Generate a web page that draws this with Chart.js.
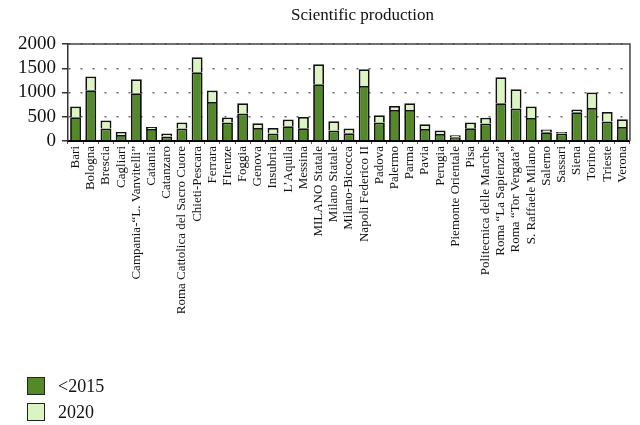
<!DOCTYPE html>
<html>
<head>
<meta charset="utf-8">
<script src="https://cdn.jsdelivr.net/npm/chart.js@4"></script>
<style>
  body { margin: 0; background: #fff; }
  #wrap { position: relative; width: 640px; height: 425px; font-family: "Liberation Serif", serif; }
  #title { position: absolute; left: 0; top: 5px; width: 725px; text-align: center; font-size: 17px; color: #111; }
  #legend { position: absolute; left: 27px; top: 373px; }
  .item { display: flex; align-items: center; height: 26px; font-size: 18px; color: #111; }
  .box { width: 16px; height: 16px; border: 1.5px solid #222; margin-right: 13px; }
</style>
</head>
<body>
<div id="wrap">
  <canvas id="chart" width="640" height="425"></canvas>
  <div id="title">Scientific production</div>
  <div id="legend"></div>
</div>
<script>
const universities = [
  "Bari", "Bologna", "Brescia", "Cagliari", "Campania-“L. Vanvitelli”", "Catania",
  "Catanzaro", "Roma Cattolica del Sacro Cuore", "Chieti-Pescara", "Ferrara", "FIrenze",
  "Foggia", "Genova", "Insubria", "L’Aquila", "Messina", "MILANO Statale", "Milano Statale",
  "Milano-Bicocca", "Napoli Federico II", "Padova", "Palermo", "Parma", "Pavia", "Perugia",
  "Piemonte Orientale", "Pisa", "Politecnica delle Marche", "Roma “La Sapienza”",
  "Roma “Tor Vergata”", "S. Raffaele Milano", "Salerno", "Sassari", "Siena", "Torino",
  "Trieste", "Verona"
];

const before2015 = [490, 1046, 257, 126, 985, 249, 92, 257, 1417, 803, 381, 566, 270, 154, 305, 264,
  1170, 216, 158, 1135, 381, 641, 641, 249, 146, 78, 264, 360, 779, 669, 476, 181, 154, 593, 682, 402, 290];

const year2020 = [221, 283, 165, 61, 288, 41, 62, 124, 309, 240, 103, 213, 97, 116, 138, 233,
  412, 192, 102, 344, 150, 82, 138, 97, 70, 41, 117, 120, 535, 398, 235, 56, 33, 56, 317, 198, 159];

const yTicks = [0, 500, 1000, 1500, 2000];

const serif = "'Liberation Serif', serif";

// solid frame along the top and right of the plot
const framePlugin = {
  id: "frame",
  afterDraw(chart) {
    const a = chart.chartArea;
    const ctx = chart.ctx;
    ctx.save();
    ctx.strokeStyle = "#444";
    ctx.lineWidth = 1.5;
    ctx.beginPath();
    ctx.moveTo(a.left, a.top);
    ctx.lineTo(a.right, a.top);
    ctx.lineTo(a.right, a.bottom);
    ctx.stroke();
    ctx.restore();
  }
};

const chart = new Chart("chart", {
  type: "bar",
  data: {
    labels: universities,
    datasets: [
      { label: "<2015", data: before2015, backgroundColor: "#538a27", borderColor: "#111", borderWidth: 1.8 },
      { label: "2020", data: year2020, backgroundColor: "#dcf3c2", borderColor: "#111", borderWidth: 1.8 }
    ]
  },
  options: {
    responsive: false,
    animation: false,
    layout: { padding: { top: 44, bottom: 104, left: 12, right: 2 } },
    datasets: { bar: { barPercentage: 0.72, categoryPercentage: 1 } },
    plugins: {
      legend: { display: false },
      title: { display: false },
      tooltip: { enabled: false }
    },
    scales: {
      x: {
        stacked: true,
        // long rotated names need more room than chart.js gives by default
        afterFit(scale) { scale.height = 180; },
        grid: { drawOnChartArea: false, tickLength: 3, color: "#555", offset: true },
        border: { color: "#000", width: 2 },
        ticks: {
          minRotation: 90, maxRotation: 90, autoSkip: false, padding: 2,
          color: "#111", font: { family: serif, size: 13 }
        }
      },
      y: {
        stacked: true,
        min: 0,
        max: 2000,
        afterBuildTicks(scale) { scale.ticks = yTicks.map(v => ({ value: v })); },
        grid: { color: "#666", lineWidth: 1.5, tickLength: 6, tickColor: "#333", tickWidth: 1.5 },
        border: { color: "#333", width: 1.5, dash: [2, 10] },
        ticks: {
          autoSkip: false, color: "#111", padding: 6, font: { family: serif, size: 19 },
          callback: v => String(v)
        }
      }
    }
  },
  plugins: [framePlugin]
});

const legendEl = document.getElementById("legend");
chart.data.datasets.forEach(function (ds) {
  const item = document.createElement("div");
  item.className = "item";
  const box = document.createElement("span");
  box.className = "box";
  box.style.background = ds.backgroundColor;
  const txt = document.createElement("span");
  txt.textContent = ds.label;
  item.appendChild(box);
  item.appendChild(txt);
  legendEl.appendChild(item);
});
</script>
</body>
</html>
